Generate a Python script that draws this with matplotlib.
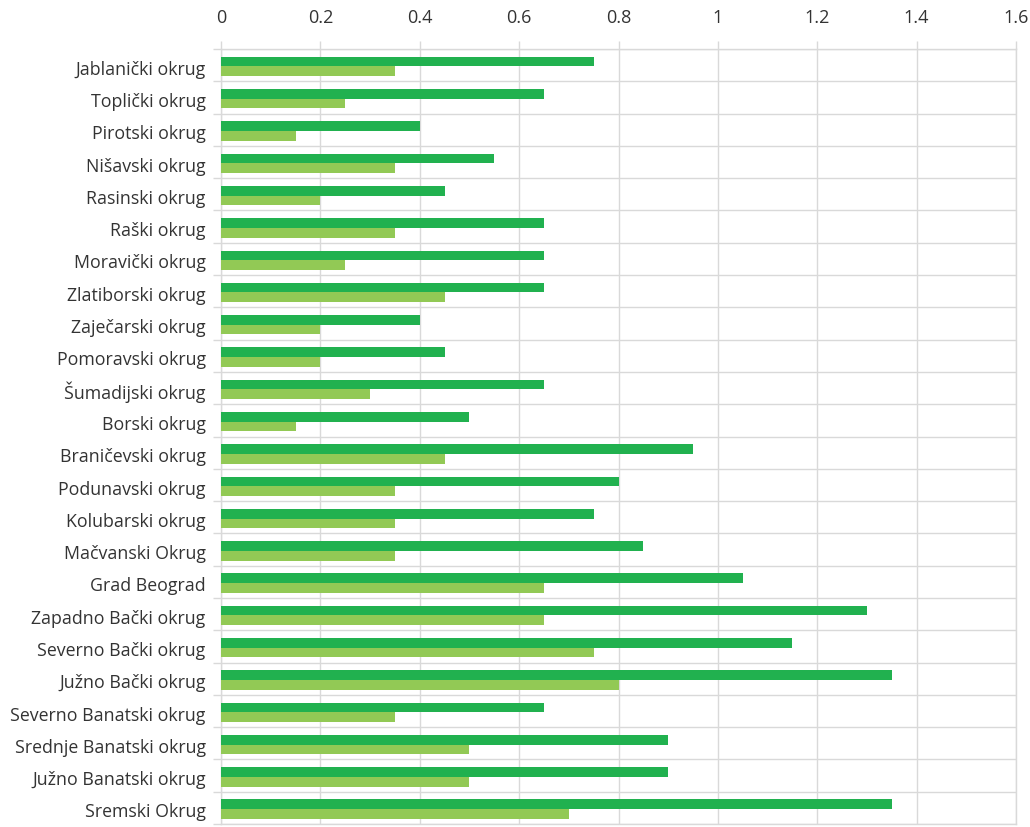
import matplotlib
matplotlib.use("Agg")
import matplotlib.pyplot as plt
import numpy as np

categories = [
    "Jablanički okrug", "Toplički okrug", "Pirotski okrug", "Nišavski okrug",
    "Rasinski okrug", "Raški okrug", "Moravički okrug", "Zlatiborski okrug",
    "Zaječarski okrug", "Pomoravski okrug", "Šumadijski okrug", "Borski okrug",
    "Braničevski okrug", "Podunavski okrug", "Kolubarski okrug", "Mačvanski Okrug",
    "Grad Beograd", "Zapadno Bački okrug", "Severno Bački okrug", "Južno Bački okrug",
    "Severno Banatski okrug", "Srednje Banatski okrug", "Južno Banatski okrug",
    "Sremski Okrug",
]
series_dark = [0.75, 0.65, 0.40, 0.55, 0.45, 0.65, 0.65, 0.65, 0.40, 0.45, 0.65, 0.50,
               0.95, 0.80, 0.75, 0.85, 1.05, 1.30, 1.15, 1.35, 0.65, 0.90, 0.90, 1.35]
series_light = [0.35, 0.25, 0.15, 0.35, 0.20, 0.35, 0.25, 0.45, 0.20, 0.20, 0.30, 0.15,
                0.45, 0.35, 0.35, 0.35, 0.65, 0.65, 0.75, 0.80, 0.35, 0.50, 0.50, 0.70]
x_ticks = [0, 0.2, 0.4, 0.6, 0.8, 1.0, 1.2, 1.4, 1.6]
x_tick_labels = ["0", "0.2", "0.4", "0.6", "0.8", "1", "1.2", "1.4", "1.6"]

DARK = "#21b14f"
LIGHT = "#92c955"
GRID = "#d9d9d9"
TEXT = "#333333"

plt.rcParams["font.family"] = ["Open Sans", "DejaVu Sans"]

fig = plt.figure(figsize=(10.30, 8.27), dpi=100)
ax = fig.add_axes([221 / 1030, 1 - 824 / 827, (1016 - 221) / 1030, (824 - 49) / 827])

y = np.arange(len(categories))
h = 0.3
ax.barh(y - h / 2 + 0.04, series_dark, height=h, color=DARK, zorder=3)
ax.barh(y + h / 2 + 0.04, series_light, height=h, color=LIGHT, zorder=3)

ax.set_xlim(0, 1.6)
ax.set_ylim(len(categories) - 0.5, -0.5)

ax.xaxis.tick_top()
ax.set_xticks(x_ticks)
ax.set_xticklabels(x_tick_labels, fontsize=13, color=TEXT)
ax.tick_params(axis="x", which="major", top=True, bottom=False, length=6,
               color=GRID, width=1, pad=10)

ax.set_yticks(y + 0.08)
ax.set_yticklabels(categories, fontsize=12.8, color=TEXT)
ax.tick_params(axis="y", which="major", length=0, pad=11)
ax.set_yticks(np.arange(len(categories) + 1) - 0.5, minor=True)
ax.tick_params(axis="y", which="minor", length=6, color=GRID, width=1)

ax.grid(axis="x", which="major", color=GRID, linewidth=1, zorder=0)
ax.grid(axis="y", which="minor", color=GRID, linewidth=1, zorder=0)
ax.set_axisbelow(True)

for side in ["top", "bottom", "left", "right"]:
    ax.spines[side].set_color(GRID)
    ax.spines[side].set_linewidth(1)

fig.savefig("out.png", dpi=100, facecolor="white")
